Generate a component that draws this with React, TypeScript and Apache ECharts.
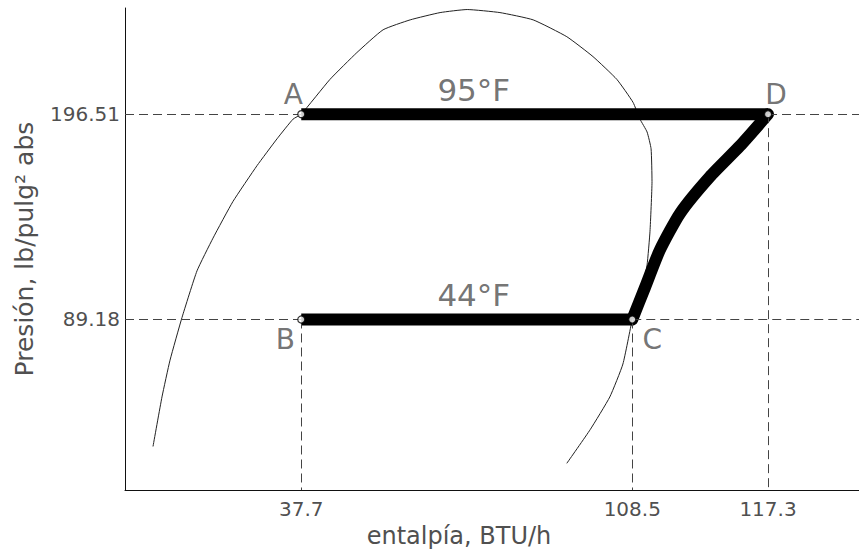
import { useEffect, useRef } from "react";
import * as echarts from "echarts";

// Vapour-compression cycle on a pressure–enthalpy sketch (R-22).
// Enthalpy in BTU per unit mass, pressure in psia.
const stateNames = ["A", "B", "C", "D"];
const stateEnthalpy = [37.7, 37.7, 108.5, 117.3];
const statePressure = [196.51, 89.18, 89.18, 196.51];

// Isotherm labels for condensing / evaporating lines
const isothermText = ["95°F", "44°F"];
const isothermPressure = [196.51, 89.18];

// Saturation dome (liquid branch → crest → vapour branch)
const domeEnthalpy = [
  5.99, 7.91, 9.63, 12.19, 15.4, 18.82, 23.1, 28.24, 32.51, 35.94, 37.7, 43.85,
  49.6, 55.2, 61.0, 67.4, 73.2, 80.2, 87.3, 94.5, 100.1, 105.2, 108.55, 109.0,
  109.46, 109.72, 109.78, 109.65, 109.46, 109.13, 108.68, 108.5, 106.5, 103.7,
  99.5, 94.5,
];
const domePressure = [
  22.8, 48.7, 67.9, 90.2, 114.6, 131.7, 150.9, 169.6, 183.6, 193.9, 196.51,
  214.7, 228.7, 240.6, 245.8, 249.6, 251.2, 249.6, 245.8, 237.0, 226.6, 214.7,
  202.7, 193.9, 187.2, 178.4, 161.3, 135.3, 117.7, 104.2, 93.9, 89.18, 65.9,
  48.7, 31.6, 14.0,
];

// Compression path C → D
const compEnthalpy = [108.5, 109.32, 110.29, 111.6, 113.53, 115.48, 117.3];
const compPressure = [89.18, 105.8, 125.5, 144.7, 163.8, 179.9, 196.51];

const xTickValues = [37.7, 108.5, 117.3];
const yTickValues = [89.18, 196.51];

// The superheat region right of saturated vapour is drawn widened.
const H_SAT = stateEnthalpy[2];
const SUPERHEAT_STRETCH = 3.3;
const toAxis = (h: number) =>
  h <= H_SAT ? h : H_SAT + (h - H_SAT) * SUPERHEAT_STRETCH;

const X_MAX = 157;
const Y_MAX = 252;
const LABEL_H = 74.6;

const GREY_TEXT = "#505050";
const FONT = "DejaVu Sans";

export default function App() {
  const ref = useRef<HTMLDivElement>(null);

  useEffect(() => {
    if (!ref.current) return;
    const chart = echarts.init(ref.current, null, { renderer: "svg" });

    const [iA, iB, iC, iD] = [0, 1, 2, 3];
    const pt = (i: number) => [toAxis(stateEnthalpy[i]), statePressure[i]];

    const compression = compEnthalpy.map((h, k) => [toAxis(h), compPressure[k]]);
    const dome = domeEnthalpy.map((h, k) => [toAxis(h), domePressure[k]]);

    const guides = [
      [[0, statePressure[iA]], pt(iA)],
      [pt(iD), [X_MAX, statePressure[iD]]],
      [[0, statePressure[iB]], pt(iB)],
      [pt(iC), [X_MAX, statePressure[iC]]],
      [pt(iB), [toAxis(stateEnthalpy[iB]), 0]],
      [pt(iC), [toAxis(stateEnthalpy[iC]), 0]],
      [pt(iD), [toAxis(stateEnthalpy[iD]), 0]],
    ].map(([a, b]) => [{ coord: a }, { coord: b }]);

    const stateLabelLayout: Record<string, { position: string; offset: number[] }> = {
      A: { position: "top", offset: [-8, 2] },
      B: { position: "bottom", offset: [-16, -2] },
      C: { position: "bottom", offset: [20, -2] },
      D: { position: "top", offset: [8, 2] },
    };

    const thick = { color: "#000", width: 12 };

    chart.setOption({
      animation: false,
      backgroundColor: "#ffffff",
      grid: { left: 125, right: 0, top: 8, bottom: 59 },
      xAxis: {
        type: "value",
        min: 0,
        max: X_MAX,
        name: "entalpía, BTU/h",
        nameLocation: "middle",
        nameGap: 30,
        nameTextStyle: {
          fontFamily: FONT,
          fontSize: 24,
          color: GREY_TEXT,
          padding: [0, 66, 0, 0],
        },
        axisLine: { show: true, lineStyle: { color: "#111", width: 1 } },
        axisTick: { show: false },
        splitLine: { show: false },
        axisLabel: {
          customValues: xTickValues.map(toAxis),
          formatter: (v: number) => {
            const h = xTickValues.find((t) => Math.abs(toAxis(t) - v) < 1e-6);
            return h === undefined ? "" : h.toFixed(1);
          },
          fontFamily: FONT,
          fontSize: 20,
          color: GREY_TEXT,
          margin: 9,
        },
      },
      yAxis: {
        type: "value",
        min: 0,
        max: Y_MAX,
        name: "Presión, lb/pulg² abs",
        nameLocation: "middle",
        nameRotate: 90,
        nameGap: 88,
        nameTextStyle: {
          fontFamily: FONT,
          fontSize: 25,
          color: GREY_TEXT,
        },
        axisLine: { show: true, lineStyle: { color: "#111", width: 1 } },
        axisTick: { show: false },
        splitLine: { show: false },
        axisLabel: {
          customValues: yTickValues,
          formatter: (v: number) => v.toFixed(2),
          fontFamily: FONT,
          fontSize: 20,
          color: GREY_TEXT,
          margin: 5,
        },
      },
      series: [
        {
          name: "guides",
          type: "line",
          data: [],
          z: 1,
          silent: true,
          markLine: {
            silent: true,
            symbol: ["none", "none"],
            label: { show: false },
            lineStyle: { color: "#444", width: 1, type: [9, 5] },
            data: guides,
          },
        },
        {
          name: "dome",
          type: "line",
          data: dome,
          smooth: 0.15,
          showSymbol: false,
          z: 2,
          lineStyle: { color: "#222", width: 1 },
        },
        {
          name: "condensing",
          type: "line",
          data: [pt(iA), pt(iD)],
          showSymbol: false,
          z: 3,
          lineStyle: { ...thick, cap: "butt" },
        },
        {
          name: "evaporating",
          type: "line",
          data: [pt(iB), pt(iC)],
          showSymbol: false,
          z: 3,
          lineStyle: { ...thick, cap: "butt" },
        },
        {
          name: "compression",
          type: "line",
          data: compression,
          smooth: 0.2,
          showSymbol: false,
          z: 3,
          lineStyle: { ...thick, cap: "round" },
        },
        {
          name: "isotherms",
          type: "scatter",
          symbolSize: 0,
          z: 4,
          data: isothermText.map((t, k) => ({
            value: [LABEL_H, isothermPressure[k]],
            label: {
              show: true,
              formatter: t,
              position: "top",
              distance: 9,
              fontFamily: FONT,
              fontSize: 31,
              color: GREY_TEXT,
            },
          })),
        },
        {
          name: "states",
          type: "scatter",
          symbol: "circle",
          symbolSize: 7,
          z: 5,
          itemStyle: { color: "#fff", borderColor: "#000", borderWidth: 1.2 },
          data: stateNames.map((n, i) => ({
            value: pt(i),
            label: {
              show: true,
              formatter: n,
              position: stateLabelLayout[n].position,
              offset: stateLabelLayout[n].offset,
              distance: 4,
              fontFamily: FONT,
              fontSize: 28,
              color: GREY_TEXT,
            },
          })),
        },
      ],
    });

    return () => chart.dispose();
  }, []);

  return (
    <div
      ref={ref}
      style={{ position: "fixed", left: 0, top: 0, width: 859, height: 553 }}
    />
  );
}
